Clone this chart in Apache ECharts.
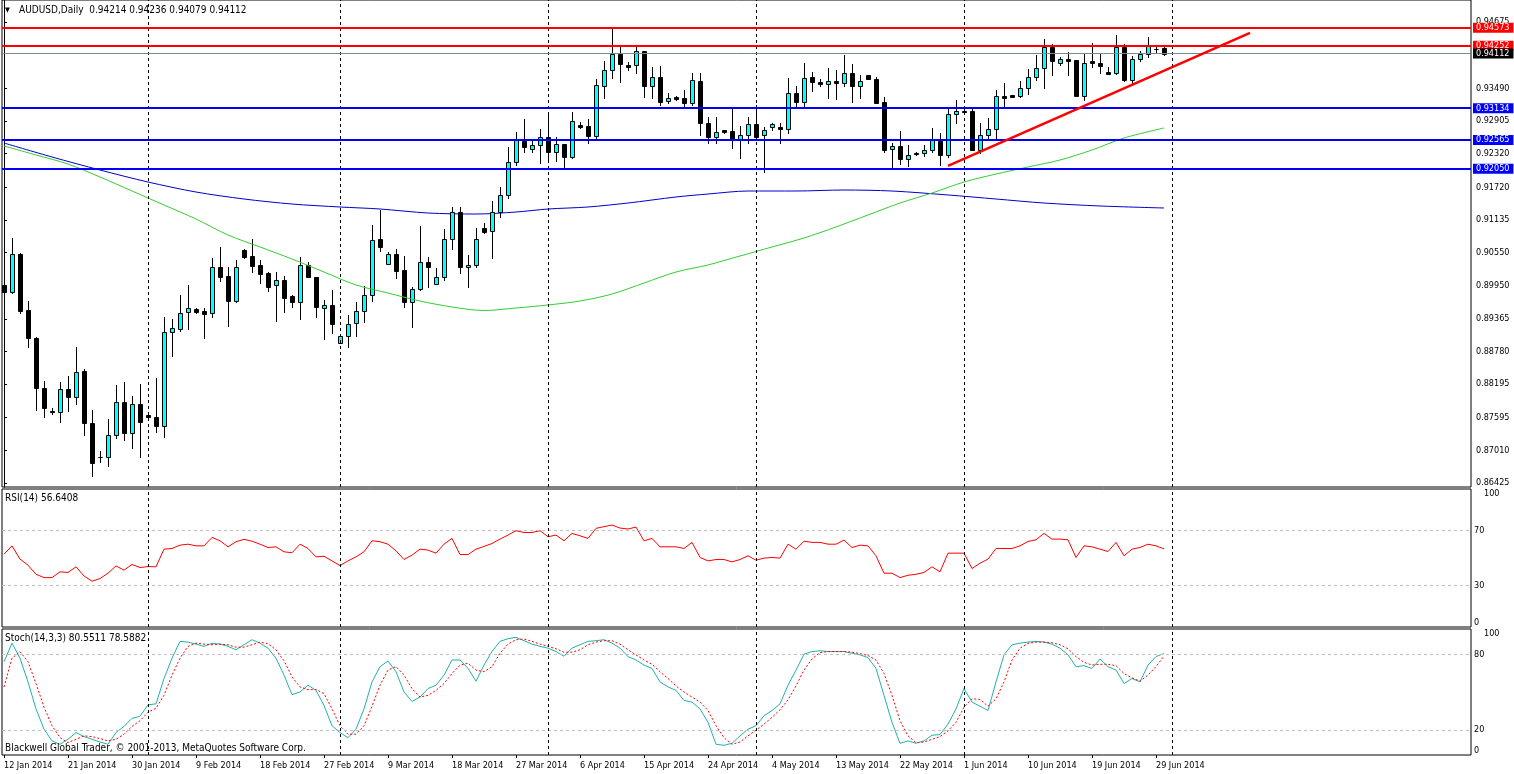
<!DOCTYPE html>
<html><head><meta charset="utf-8">
<script src="https://cdn.jsdelivr.net/npm/echarts@6/dist/echarts.min.js"></script>
<style>html,body{margin:0;padding:0;background:#fff}#c{width:1514px;height:774px}</style>
</head><body><div id="c"></div>
<script>
const chartTitle = 'AUDUSD,Daily  0.94214 0.94236 0.94079 0.94112';
const rsiTitle = 'RSI(14) 56.6408';
const stochTitle = 'Stoch(14,3,3) 80.5511 78.5882';
const footer = 'Blackwell Global Trader, \u00a9 2001-2013, MetaQuotes Software Corp.';
const dateLabels = ['12 Jan 2014','21 Jan 2014','30 Jan 2014','9 Feb 2014','18 Feb 2014','27 Feb 2014','9 Mar 2014','18 Mar 2014','27 Mar 2014','6 Apr 2014','15 Apr 2014','24 Apr 2014','4 May 2014','13 May 2014','22 May 2014','1 Jun 2014','10 Jun 2014','19 Jun 2014','29 Jun 2014'];
const barsPerLabel = 8;
const monthStartBars = [18,42,68,94,120,146];
const priceTicks = [0.86425,0.87010,0.87595,0.88195,0.88780,0.89365,0.89950,0.90550,0.91135,0.91720,0.92320,0.92905,0.93490,0.94675];
const resistance = [0.94573,0.94252];
const support = [0.93134,0.92565,0.92050];
const bid = 0.94112;
const trendStart = [118,0.92101];
const trendEnd = [155.75,0.94482];
const rsiLevels = [70,30];
const stochLevels = [80,20];

const opens = [0.89970,0.89844,0.90524,0.89522,0.89021,0.88126,0.87714,0.87696,0.88108,0.87965,
0.88430,0.87499,0.86891,0.86891,0.87285,0.87875,0.87320,0.87839,0.87643,0.87607,
0.87446,0.89128,0.89182,0.89486,0.89540,0.89504,0.89468,0.90292,0.90131,0.89683,
0.90596,0.90489,0.90328,0.90184,0.89970,0.90059,0.89773,0.89665,0.90328,0.90113,
0.89558,0.89612,0.88931,0.89057,0.89289,0.89504,0.89791,0.90793,0.90345,0.90524,
0.90238,0.89665,0.89898,0.90381,0.89987,0.90113,0.90793,0.91276,0.90292,0.90328,
0.90990,0.90936,0.91276,0.91581,0.92171,0.92547,0.92404,0.92476,0.92619,0.92350,
0.92493,0.92261,0.92834,0.92816,0.92637,0.93532,0.93818,0.94104,0.93908,0.93908,
0.94158,0.93532,0.93693,0.93263,0.93335,0.93317,0.93227,0.93621,0.92869,0.92619,
0.92744,0.92726,0.92583,0.92654,0.92851,0.92654,0.92798,0.92798,0.92762,0.93406,
0.93245,0.93693,0.93603,0.93567,0.93621,0.93585,0.93764,0.93532,0.93729,0.93657,
0.93245,0.92404,0.92458,0.92225,0.92332,0.92332,0.92386,0.92547,0.92297,0.93030,
0.93084,0.93084,0.92386,0.92654,0.92762,0.93353,0.93371,0.93353,0.93496,0.93693,
0.93854,0.94230,0.93943,0.94015,0.93997,0.93353,0.93979,0.93943,0.93782,0.93764,
0.94230,0.93639,0.94015,0.94104,0.94194,0.94214];
const closes = [0.89844,0.90524,0.89504,0.89021,0.88126,0.87768,0.87696,0.88108,0.87965,0.88412,
0.87499,0.86783,0.86895,0.87285,0.87875,0.87320,0.87839,0.87517,0.87607,0.87446,
0.89128,0.89200,0.89468,0.89558,0.89486,0.89450,0.90292,0.90113,0.89683,0.90292,
0.90471,0.90310,0.90166,0.89934,0.90059,0.89737,0.89665,0.90328,0.90113,0.89576,
0.89612,0.89271,0.89057,0.89271,0.89504,0.89791,0.90775,0.90650,0.90524,0.90220,
0.89665,0.89898,0.90381,0.90292,0.90113,0.90793,0.91276,0.90292,0.90328,0.90793,
0.90918,0.91276,0.91581,0.92171,0.92565,0.92440,0.92476,0.92619,0.92350,0.92493,
0.92261,0.92905,0.92798,0.92637,0.93550,0.93818,0.94104,0.93925,0.93872,0.94158,
0.93532,0.93693,0.93245,0.93317,0.93299,0.93227,0.93639,0.92869,0.92619,0.92708,
0.92708,0.92583,0.92654,0.92851,0.92619,0.92744,0.92851,0.92762,0.93406,0.93245,
0.93675,0.93603,0.93567,0.93621,0.93585,0.93764,0.93532,0.93621,0.93657,0.93227,
0.92386,0.92458,0.92225,0.92297,0.92314,0.92386,0.92565,0.92297,0.93030,0.93084,
0.93066,0.92386,0.92654,0.92762,0.93353,0.93317,0.93335,0.93496,0.93693,0.93854,
0.94230,0.93979,0.94015,0.93979,0.93353,0.93943,0.93943,0.93890,0.93746,0.94230,
0.93639,0.94015,0.94104,0.94248,0.94190,0.94112];
const highs = [0.90005,0.90811,0.90542,0.89683,0.89030,0.88251,0.87768,0.88233,0.88341,0.88860,
0.88466,0.87732,0.86998,0.87571,0.88180,0.88233,0.87983,0.88197,0.87696,0.88305,
0.89397,0.89361,0.89791,0.89970,0.89558,0.89558,0.90453,0.90650,0.90292,0.90417,
0.90614,0.90793,0.90417,0.90202,0.90202,0.90131,0.89791,0.90471,0.90381,0.90120,
0.89701,0.89880,0.89065,0.89433,0.89665,0.89952,0.91043,0.91312,0.90560,0.90614,
0.90489,0.89934,0.91026,0.90471,0.90274,0.90972,0.91366,0.91366,0.90507,0.90990,
0.91079,0.91473,0.91724,0.92440,0.92708,0.92941,0.92565,0.92762,0.93013,0.92619,
0.92500,0.93066,0.92887,0.92941,0.93657,0.93979,0.94588,0.94230,0.93961,0.94248,
0.94165,0.93872,0.93890,0.93406,0.93353,0.93460,0.93764,0.93764,0.92977,0.92977,
0.92750,0.93138,0.92816,0.92977,0.93192,0.92798,0.92869,0.92869,0.93675,0.93532,
0.93943,0.93782,0.93657,0.93854,0.93818,0.94087,0.93925,0.93729,0.93735,0.93693,
0.93335,0.92511,0.92726,0.92476,0.92350,0.92476,0.92780,0.92690,0.93138,0.93281,
0.93138,0.93138,0.92869,0.92959,0.93460,0.93585,0.93378,0.93621,0.93836,0.94087,
0.94373,0.94283,0.94051,0.94140,0.94005,0.94122,0.94301,0.94122,0.93872,0.94444,
0.94283,0.94069,0.94158,0.94409,0.94230,0.94236];
const lows = [0.89773,0.89826,0.89468,0.88860,0.87732,0.87607,0.87660,0.87517,0.87714,0.87839,
0.87285,0.86551,0.86801,0.86730,0.87231,0.87195,0.87052,0.86891,0.87553,0.87338,
0.87249,0.88699,0.89146,0.89182,0.89468,0.89021,0.89397,0.90041,0.89236,0.89670,
0.90460,0.90202,0.90005,0.89862,0.89325,0.89486,0.89576,0.89361,0.90105,0.89397,
0.89003,0.89110,0.88925,0.88860,0.89057,0.89307,0.89683,0.90578,0.90340,0.90095,
0.89576,0.89218,0.89880,0.89934,0.89980,0.90059,0.90614,0.90184,0.89934,0.90285,
0.90900,0.90453,0.91187,0.91527,0.92118,0.92350,0.92350,0.92153,0.92189,0.92189,
0.92082,0.92243,0.92780,0.92511,0.92583,0.93317,0.93675,0.93603,0.93818,0.93764,
0.93335,0.93317,0.93192,0.93227,0.93281,0.93156,0.93192,0.92654,0.92511,0.92511,
0.92690,0.92422,0.92243,0.92511,0.92610,0.91992,0.92744,0.92511,0.92690,0.93156,
0.93156,0.93442,0.93532,0.93317,0.93299,0.93532,0.93245,0.93317,0.93650,0.93220,
0.92350,0.92064,0.92135,0.92100,0.92297,0.92279,0.92350,0.92118,0.92261,0.92869,
0.93030,0.92380,0.92332,0.92601,0.92601,0.93156,0.93330,0.93335,0.93388,0.93639,
0.93496,0.93729,0.93908,0.93729,0.93345,0.93281,0.93872,0.93764,0.93740,0.93746,
0.93630,0.93567,0.93979,0.94051,0.94140,0.94079];

const greenMA = [[0,0.92458],[4,0.92297],[8,0.92135],[12,0.91903],[16,0.91652],[20,0.91402],[24,0.91151],[28,0.90865],[32,0.90650],[36,0.90435],[40,0.90202],[44,0.89970],[48,0.89826],[52,0.89683],[56,0.89576],[60,0.89513],[64,0.89558],[68,0.89612],[72,0.89683],[76,0.89808],[80,0.90005],[84,0.90202],[88,0.90328],[92,0.90489],[96,0.90650],[100,0.90811],[104,0.91008],[108,0.91223],[112,0.91437],[116,0.91616],[120,0.91813],[124,0.91956],[128,0.92082],[132,0.92207],[136,0.92386],[140,0.92601],[145,0.92780]];
const blueMA = [[0,0.92511],[6,0.92261],[12,0.92028],[18,0.91813],[24,0.91634],[30,0.91509],[36,0.91419],[42,0.91366],[47,0.91330],[53,0.91258],[59,0.91240],[64,0.91276],[68,0.91330],[73,0.91366],[78,0.91437],[84,0.91545],[88,0.91598],[93,0.91652],[99,0.91652],[105,0.91670],[111,0.91652],[118,0.91581],[124,0.91509],[130,0.91437],[137,0.91384],[145,0.91348]];

const rsi = [52.8,58.8,49.2,44.8,38.2,35.8,35.8,40,39.5,43.6,
37,33.2,35.1,39,44.3,41.2,45.3,43.1,43.8,43.6,
56.4,56.9,59.3,60,58.8,58.8,64.9,62.5,58.1,61.8,
63.5,62.2,60,57.6,58.1,54.5,53.8,60,56.9,50.8,
51.3,47.9,44.5,47.9,50.8,54.5,62.5,61.8,60,55.2,
48.9,52.1,56.4,55.7,53.5,60,64.2,52.5,52.5,56.4,
58.4,60.5,63.7,66.6,69.8,68.5,68.5,69.8,65.4,66.6,
62.5,67.8,66.1,64.2,71.5,72.7,73.9,71.7,71,72.4,
62.5,64.2,58.1,58.1,58.1,56.9,61.3,50.4,47.9,48.9,
48.9,47.2,48.9,51.6,48.4,49.9,50.4,49.9,60,56.4,
62.2,61.3,61.3,60,60,63,57.6,59.3,58.8,51.6,
39,39,35.8,37.5,38.2,39.5,43.6,40,53.5,53.5,
53.5,42.4,46.2,49.2,56.9,56.9,56.9,58.8,62,63.2,
67.8,63.7,63.7,63.2,50.4,58.8,58.1,56.4,54.7,61.3,
51.6,56.4,57.6,60,58.8,56.64];
const stochMain = [74,88.8,76.8,58,36.6,20.5,11.2,8.5,12.5,17.8,
14.6,12.5,10.3,8.5,17.8,22.7,29.1,30.7,39.8,40.6,
60.7,76.8,90.2,89.6,88,86.2,88.6,88,86.2,83.5,
87.5,91.5,88.8,84.8,76.8,63.4,47.9,50,55.4,51.3,
39.3,23.2,17.8,13.8,20.5,36.6,58,70.1,74.6,66.1,
50,42.5,46,52.7,55.4,63.4,75.4,75.4,68.7,58.6,
71.4,82.1,90.2,92.3,93.4,90.7,88,86.2,84.8,82.1,
78.4,84.8,87.5,90.2,90.7,91.5,88.8,84.8,78.1,75.4,
71.4,68.7,58,54,51.3,43.3,42,36.6,25.9,8.5,
7.7,9.3,15.2,20.5,23.2,31.2,35.3,40.6,55.4,67.4,
80,82.1,82.7,82.1,82.1,82.1,80.8,79.5,77.3,68.7,
47.3,25.9,9.3,11.2,9.3,11.2,15.7,16.2,24.5,36.6,
52.7,42,38.7,35.3,58,79.5,87.5,88.8,89.6,90.2,
89.6,88,84.8,79.5,70.1,70.9,68.7,76.2,70.1,67.4,
56.7,60.7,58,71.4,78.1,80.55];
const stochSignal = [54,76.8,82,74,56.7,38,23.2,13.8,9.8,12.5,
15.2,14.6,13,11.2,12.5,16.5,22.7,27.2,33.9,37.1,
47.3,63.4,76.8,86.2,88.8,88,87.5,88,87.5,85.6,
85.6,87.5,89.6,88.3,83.5,74.9,62,54,51.9,51.9,
48.7,36.6,23.2,16.5,16.5,23.2,38.7,55.4,67.4,70.1,
63.4,52.7,46,47.3,51.3,56.7,64.7,71.4,72.8,67.4,
66.1,70.1,80.8,88,91.5,92,90.2,88,86.2,84.3,
81.6,81.6,83.5,87.5,89.6,90.7,90.7,88,83.5,79.5,
75.4,72,66.1,60.7,54.8,50,46,42,35.3,23.2,
13.8,8.5,10.3,15.2,19.7,24.5,29.9,35.8,43.8,54.8,
67.4,76.2,81.3,82.1,82.1,82.1,81.6,80.5,78.9,75.4,
64.7,47.3,27.2,15.2,9.8,10.3,12.5,14.6,19.2,25.9,
37.9,44.6,44.1,38.7,44.6,58,75.4,84.8,88.6,89.6,
89.6,89.1,87.5,84.3,78.1,73.6,71.4,72,72,70.9,
64.7,61.2,58.6,63.4,70.1,78.59];

const FONT = '"DejaVu Sans Condensed", "Liberation Sans", sans-serif';
const X_MIN = -0.25, X_MAX = 183.375;
const candleData = closes.map((c, i) => [i, opens[i], c, lows[i], highs[i]]);
const toPairs = arr => arr.map((v, i) => [i, v]);
const labelBars = dateLabels.map((_, k) => k * barsPerLabel);

const vLines = monthStartBars.map(b => ({xAxis: b}));
const vLineStyle = {color: '#000', width: 1, type: [3, 3]};
function levelLine(v, color, width, bg) {
  return {yAxis: v, lineStyle: {color: color, width: width, type: 'solid'},
    label: {show: true, position: 'end', distance: 2, formatter: () => v.toFixed(5),
      backgroundColor: bg, color: '#fff', fontFamily: FONT, fontSize: 9, padding: [1, 4, 0, 3]}};
}
const levelData = [
  ...resistance.map(v => levelLine(v, '#ff0000', 2, '#ff0000')),
  levelLine(bid, '#778899', 1, '#000000'),
  ...support.map(v => levelLine(v, '#0000ff', 2, '#0000ff')),
  [{coord: trendStart, lineStyle: {color: '#ff0000', width: 2.5, type: 'solid'}, label: {show: false}}, {coord: trendEnd}]
];
function indLevels(levels) {
  return levels.map(v => ({yAxis: v, lineStyle: {color: '#c0c0c0', width: 1, type: [3, 3]}})).concat(vLines);
}

const gridBase = {show: true, borderColor: '#000', borderWidth: 1, backgroundColor: 'transparent', containLabel: false, outerBoundsMode: 'none'};
const grids = [
  Object.assign({left: 2, top: 0, width: 1469, height: 487}, gridBase),
  Object.assign({left: 2, top: 489, width: 1469, height: 138}, gridBase),
  Object.assign({left: 2, top: 629, width: 1469, height: 126}, gridBase)
];
function xAx(g, showLabels) {
  return {type: 'value', gridIndex: g, min: X_MIN, max: X_MAX, splitLine: {show: false}, axisLine: {show: false},
    axisTick: showLabels ? {show: true, customValues: labelBars, length: 3, lineStyle: {color: '#000'}} : {show: false},
    axisLabel: showLabels ? {show: true, customValues: labelBars, formatter: v => dateLabels[Math.round(v / barsPerLabel)],
      align: 'left', margin: 6, color: '#000', fontSize: 9, fontFamily: FONT} : {show: false}};
}
function indY(g, vals) {
  return {type: 'value', gridIndex: g, position: 'right', min: 0, max: 100, splitLine: {show: false},
    axisLine: {show: false}, axisTick: {show: false},
    axisLabel: {customValues: vals, margin: 3, color: '#000', fontSize: 9, fontFamily: FONT,
      verticalAlignMaxLabel: 'top', verticalAlignMinLabel: 'bottom',
      formatter: v => v === 100 ? '{a|100}' : String(v), rich: {a: {padding: [0, 0, 0, 10], fontSize: 9, fontFamily: FONT, color: '#000'}}}};
}

const option = {
  animation: false,
  backgroundColor: '#ffffff',
  grid: grids,
  xAxis: [xAx(0, false), xAx(1, false), xAx(2, true)],
  yAxis: [
    {type: 'value', gridIndex: 0, position: 'right', min: 0.86354, max: 0.95071, splitLine: {show: false},
      axisLine: {show: true, lineStyle: {color: '#000'}},
      axisTick: {show: true, customValues: priceTicks, length: 3, lineStyle: {color: '#000'}},
      axisLabel: {customValues: priceTicks, formatter: v => v.toFixed(5), margin: 5, color: '#000', fontSize: 9, fontFamily: FONT}},
    indY(1, [0, 30, 70, 100]),
    indY(2, [0, 20, 80, 100])
  ],
  series: [
    {type: 'line', name: 'MA blue', xAxisIndex: 0, yAxisIndex: 0, data: blueMA, smooth: 0.3, showSymbol: false, z: 1, silent: true,
      lineStyle: {color: '#0000cc', width: 1},
      markLine: {silent: true, symbol: ['none', 'none'], animation: false, precision: 5, label: {show: false}, lineStyle: vLineStyle, data: vLines}},
    {type: 'custom', name: 'AUDUSD', xAxisIndex: 0, yAxisIndex: 0, data: candleData, z: 2, silent: true, clip: true,
      encode: {x: 0, y: [1, 2, 3, 4]},
      renderItem: function (params, api) {
        const i = api.value(0), o = api.value(1), c = api.value(2), l = api.value(3), h = api.value(4);
        const po = api.coord([i, o]), pc = api.coord([i, c]), pl = api.coord([i, l]), ph = api.coord([i, h]);
        const x = Math.round(po[0]) + 0.5;
        const top = Math.round(Math.min(po[1], pc[1])) + 0.5;
        const bot = Math.round(Math.max(po[1], pc[1])) + 0.5;
        const bull = c > o;
        return {type: 'group', children: [
          {type: 'line', shape: {x1: x, y1: Math.round(ph[1]), x2: x, y2: Math.round(pl[1]) + 1}, style: {stroke: '#000', lineWidth: 1}},
          {type: 'rect', shape: {x: x - 2, y: top, width: 4, height: bot - top}, style: {fill: bull ? '#00ffff' : '#000000', stroke: '#000', lineWidth: 1}}
        ]};
      }},
    {type: 'line', name: 'MA green', xAxisIndex: 0, yAxisIndex: 0, data: greenMA, smooth: 0.3, showSymbol: false, z: 3, silent: true,
      lineStyle: {color: '#32cd32', width: 1},
      markLine: {silent: true, symbol: ['none', 'none'], animation: false, precision: 5, data: levelData}},
    {type: 'line', name: 'RSI', xAxisIndex: 1, yAxisIndex: 1, data: toPairs(rsi), showSymbol: false, silent: true,
      lineStyle: {color: '#ff0000', width: 1},
      markLine: {silent: true, symbol: ['none', 'none'], animation: false, precision: 5, label: {show: false}, lineStyle: vLineStyle, data: indLevels(rsiLevels)}},
    {type: 'line', name: 'Stoch', xAxisIndex: 2, yAxisIndex: 2, data: toPairs(stochMain), showSymbol: false, silent: true,
      lineStyle: {color: '#20b2aa', width: 1},
      markLine: {silent: true, symbol: ['none', 'none'], animation: false, precision: 5, label: {show: false}, lineStyle: vLineStyle, data: indLevels(stochLevels)}},
    {type: 'line', name: 'Signal', xAxisIndex: 2, yAxisIndex: 2, data: toPairs(stochSignal), showSymbol: false, silent: true,
      lineStyle: {color: '#ff0000', width: 1, type: [2, 2]}}
  ],
  graphic: [
    {type: 'text', x: 5, y: 10, z: 10, style: {text: '\u25bc', font: '7px ' + FONT, fill: '#000', verticalAlign: 'middle'}},
    {type: 'text', x: 19, y: 10, z: 10, style: {text: chartTitle, font: '10px ' + FONT, fill: '#000', verticalAlign: 'middle'}},
    {type: 'text', x: 5, y: 498, z: 10, style: {text: rsiTitle, font: '10px ' + FONT, fill: '#000', verticalAlign: 'middle'}},
    {type: 'text', x: 5, y: 638, z: 10, style: {text: stochTitle, font: '10px ' + FONT, fill: '#000', verticalAlign: 'middle'}},
    {type: 'text', x: 5, y: 748, z: 10, style: {text: footer, font: '10px ' + FONT, fill: '#000', verticalAlign: 'middle'}}
  ]
};
const chart = echarts.init(document.getElementById('c'));
chart.setOption(option);
</script>
</body></html>
